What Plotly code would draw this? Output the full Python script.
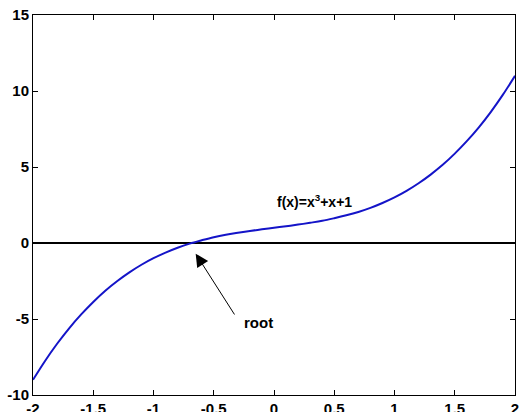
import plotly.graph_objects as go

x_vals = [-2.0, -1.9, -1.8, -1.7, -1.6, -1.5, -1.4, -1.3, -1.2, -1.1, -1.0,
          -0.9, -0.8, -0.7, -0.6, -0.5, -0.4, -0.3, -0.2, -0.1, 0.0,
          0.1, 0.2, 0.3, 0.4, 0.5, 0.6, 0.7, 0.8, 0.9, 1.0,
          1.1, 1.2, 1.3, 1.4, 1.5, 1.6, 1.7, 1.8, 1.9, 2.0]
y_vals = [-9.0, -7.76, -6.63, -5.61, -4.70, -3.88, -3.14, -2.50, -1.93, -1.43, -1.0,
          -0.63, -0.31, -0.04, 0.18, 0.38, 0.54, 0.67, 0.79, 0.90, 1.0,
          1.10, 1.21, 1.33, 1.46, 1.63, 1.82, 2.04, 2.31, 2.63, 3.0,
          3.43, 3.93, 4.50, 5.14, 5.88, 6.70, 7.61, 8.63, 9.76, 11.0]
zero_x = [-2, 2]
zero_y = [0, 0]
x_ticks = [-2, -1.5, -1, -0.5, 0, 0.5, 1, 1.5, 2]
y_ticks = [-10, -5, 0, 5, 10, 15]
root_point = (-0.65, -0.7)
root_label = (-0.13, -5.2)
func_label = (0.34, 2.75)

fig = go.Figure()
fig.add_trace(go.Scatter(x=zero_x, y=zero_y, mode="lines",
                         line=dict(color="black", width=2), showlegend=False))
fig.add_trace(go.Scatter(x=x_vals, y=y_vals, mode="lines",
                         line=dict(color="#1414c8", width=2, shape="spline"),
                         showlegend=False))

fig.add_annotation(x=root_point[0], y=root_point[1], ax=-0.32, ay=-4.8,
                   xref="x", yref="y", axref="x", ayref="y",
                   text="", showarrow=True, arrowhead=2, arrowsize=2.6,
                   arrowwidth=1, arrowcolor="black")
fig.add_annotation(x=root_label[0], y=root_label[1], text="<b>root</b>",
                   showarrow=False, font=dict(family="Liberation Sans", size=15, color="black"))
fig.add_annotation(x=func_label[0], y=func_label[1], text="<b>f(x)=x<sup>3</sup>+x+1</b>",
                   showarrow=False, font=dict(family="Liberation Sans", size=14, color="black"))

axis_common = dict(showgrid=False, zeroline=False, showline=True, linecolor="black",
                   linewidth=1, mirror="allticks", ticks="inside", ticklen=5,
                   tickcolor="black", automargin=False,
                   tickfont=dict(family="Liberation Sans", size=15, color="black"))
fig.update_xaxes(range=[-2, 2], tickvals=x_ticks,
                 ticktext=[f"<b>{t:g}</b>" for t in x_ticks], **axis_common)
fig.update_yaxes(range=[-10, 15], tickvals=y_ticks,
                 ticktext=[f"<b>{t:g}</b>" for t in y_ticks], **axis_common)

fig.update_layout(width=520, height=412, margin=dict(l=33, r=5, t=15, b=17),
                  plot_bgcolor="white", paper_bgcolor="white")
fig.write_html("out.html")
